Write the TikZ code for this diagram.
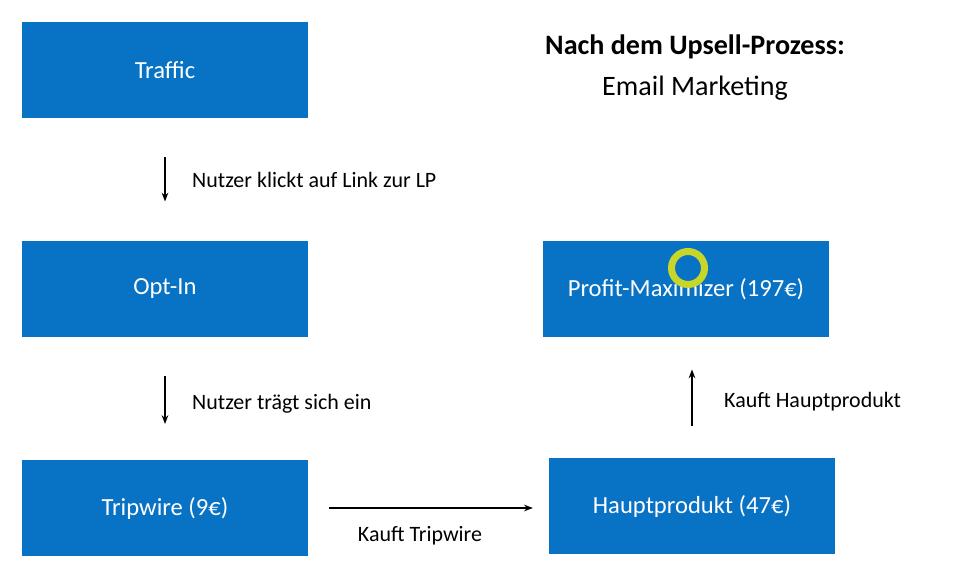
\documentclass[tikz,border=0pt]{standalone}
\usepackage{fontspec}
\setmainfont{Carlito}
\usetikzlibrary{positioning, calc, arrows.meta}
\definecolor{boxblue}{HTML}{0872C4}
\definecolor{cursorgreen}{HTML}{C8D62A}

\begin{document}
\begin{tikzpicture}
    [x=0.02cm, y=-0.02cm,
    stepnode/.style={rectangle, fill=boxblue, text=white, minimum width=5.72cm, minimum height=1.94cm, font=\fontsize{14}{16}\selectfont},
    labelnode/.style={font=\fontsize{12.5}{15}\selectfont},
    flow/.style={-{Stealth[length=5pt]}, thick},]

    \useasboundingbox (0,0) rectangle (963,573);

    %Nodes
    \node[stepnode](T) at (165,70){Traffic};
    \node[stepnode](O) at (165,289){Opt-In};
    \node[stepnode](W) at (165,508){Tripwire (9€)};
    \node[stepnode](H) at (692,506){Hauptprodukt (47€)};
    \node[stepnode](P) at (686,289){Profit-Maximizer (197€)};

    %Title
    \node(title) at (695,47){\fontsize{16}{19}\selectfont\bfseries Nach dem Upsell-Prozess:};
    \node(subtitle) at (695,88){\fontsize{16}{19}\selectfont Email Marketing};

    %Lines
    \draw[flow, shorten <=22, shorten >=22](T.south)--(O.north);
    \draw[flow, shorten <=22, shorten >=20](O.south)--(W.north);
    \draw[flow, shorten <=12, shorten >=9](W.east)--(W.east -| H.west);
    \draw[flow, shorten <=18, shorten >=18](H.north)--(H.north |- P.south);

    %Labels
    \node[labelnode, anchor=west](L1) at (186,180){Nutzer klickt auf Link zur LP};
    \node[labelnode, anchor=west](L2) at (186,404){Nutzer trägt sich ein};
    \node[labelnode](L3) at (420,536){Kauft Tripwire};
    \node[labelnode, anchor=west](L4) at (718,402){Kauft Hauptprodukt};

    %Cursor
    \draw[cursorgreen, line width=4pt] (688,268) circle (0.33cm);

\end{tikzpicture}
\end{document}
